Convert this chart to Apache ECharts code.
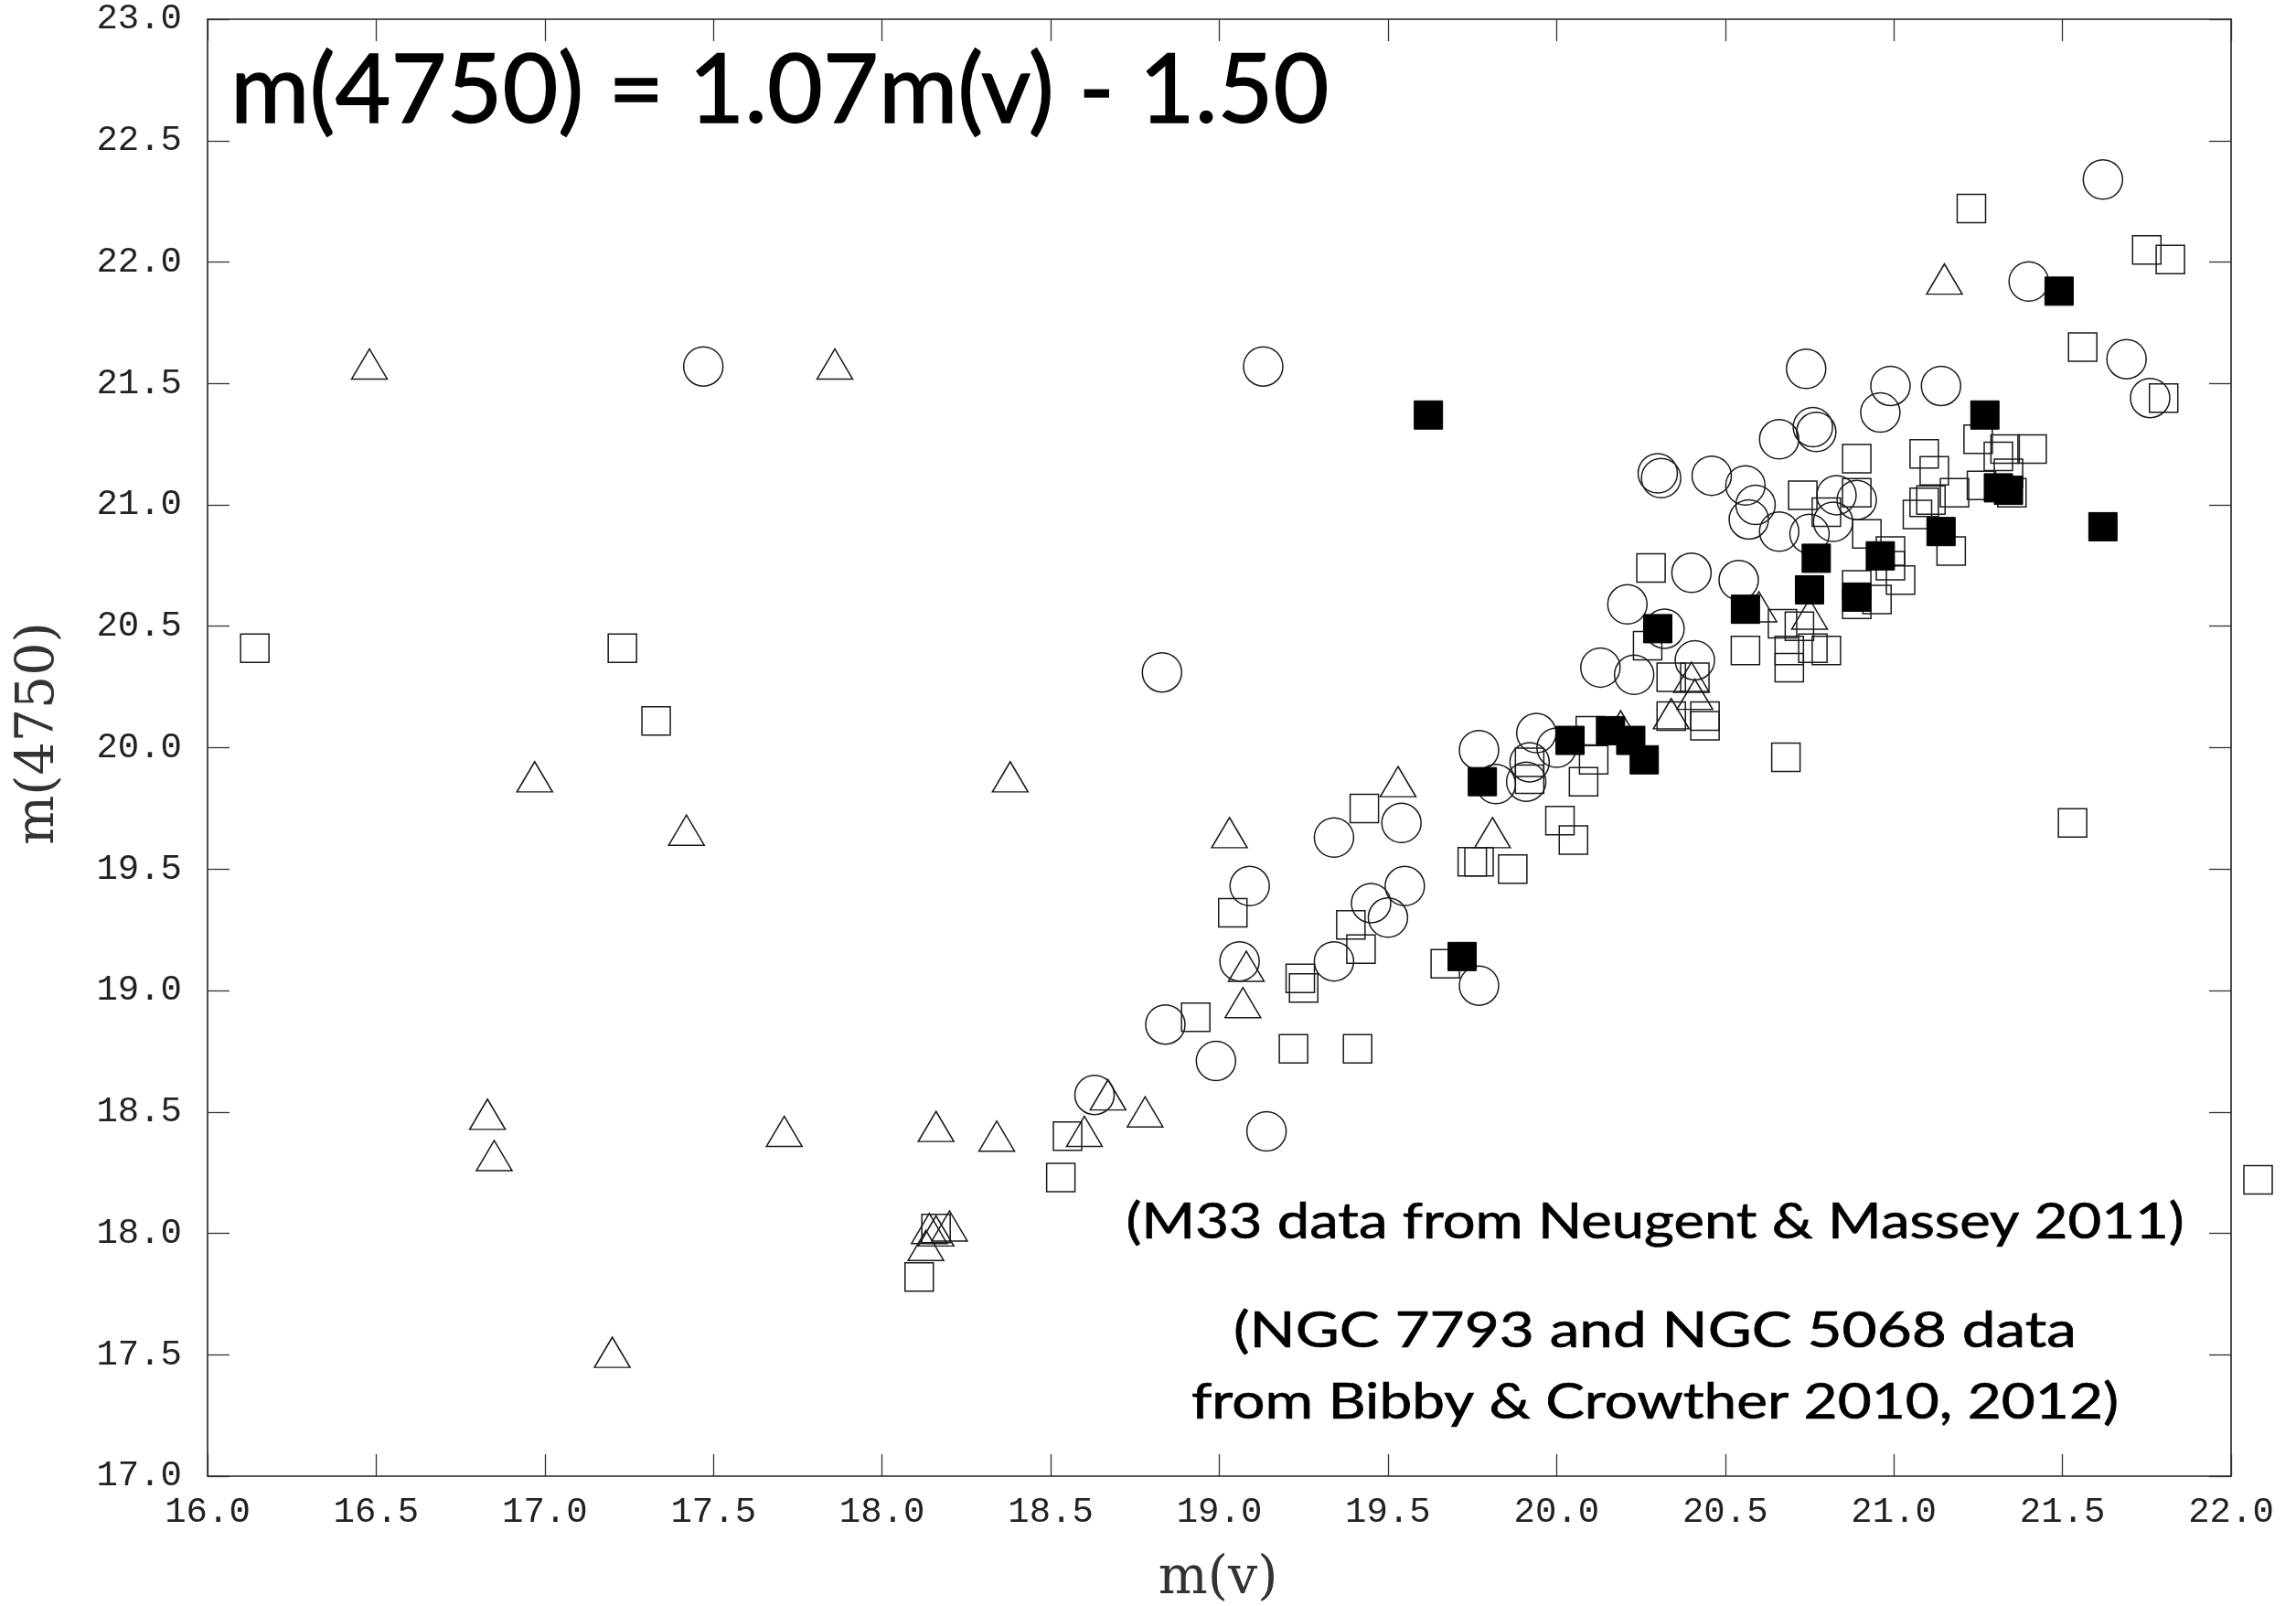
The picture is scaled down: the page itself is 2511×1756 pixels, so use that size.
<!DOCTYPE html>
<html>
<head>
<meta charset="utf-8">
<script src="https://cdn.jsdelivr.net/npm/echarts@6/dist/echarts.min.js"></script>
<style>
html,body{margin:0;padding:0;background:#fff;}
#c{width:2511px;height:1756px;}
</style>
</head>
<body>
<div id="c"></div>
<script>
// ---- data ----
const circleX = [17.47,19.13,18.83,19.09,19.34,19.54,19.55,19.45,19.50,19.06,19.34,18.84,18.99,19.14,18.63,19.77,
  19.77,19.82,19.94,19.92,20.00,19.91,20.21,20.40,20.54,20.13,20.23,20.32,20.41,21.62,21.40,21.69,21.76,20.74,20.99,
  21.14,20.96,20.76,20.77,20.66,20.30,20.31,20.46,20.56,20.59,20.57,20.66,20.75,20.83,20.89,20.82];
const circleY = [21.57,21.57,20.31,19.43,19.63,19.69,19.43,19.36,19.30,19.12,19.12,18.86,18.71,18.42,18.57,19.02,
  19.99,19.85,20.06,19.94,20.00,19.86,20.59,20.72,20.69,20.33,20.30,20.49,20.36,22.34,21.92,21.60,21.44,21.56,21.49,
  21.49,21.38,21.32,21.30,21.27,21.13,21.11,21.12,21.08,21.00,20.94,20.89,20.88,21.04,21.02,20.93];

const squareX = [16.14,17.23,17.33,22.08,21.53,18.16,18.11,18.55,18.53,18.93,19.22,19.41,19.24,19.25,19.43,19.04,
  19.39,19.42,19.75,19.77,19.87,20.01,20.05,19.67,19.92,19.92,20.08,20.11,20.10,20.34,20.44,20.44,20.34,20.41,20.27,
  20.28,20.56,20.68,20.69,20.67,20.72,20.69,20.76,20.80,20.89,20.95,20.89,20.92,20.99,20.99,21.02,21.17,21.07,21.09,
  21.11,21.18,20.80,20.73,20.89,20.89,21.09,21.12,21.25,21.33,21.41,21.31,21.34,21.26,21.35,21.23,21.75,21.82,21.56,21.80];
const squareY = [20.41,20.41,20.11,18.22,19.69,18.02,17.82,18.40,18.23,18.89,18.76,18.76,19.05,19.01,19.75,19.32,
  19.27,19.17,19.53,19.53,19.50,19.70,19.62,19.11,19.94,19.87,19.86,19.95,20.07,20.13,20.13,20.09,20.29,20.29,20.42,
  20.74,20.40,19.96,20.33,20.51,20.50,20.40,20.41,20.40,20.67,20.61,20.59,20.88,20.81,20.75,20.69,20.81,20.96,21.01,
  21.02,21.05,20.97,21.04,21.05,21.19,21.21,21.14,21.27,21.23,21.23,21.20,21.13,21.08,21.05,22.22,22.05,22.01,21.65,21.44];

const triangleX = [16.48,17.86,16.97,17.42,18.38,16.83,16.85,17.20,17.71,18.16,18.34,18.60,18.67,18.78,18.14,18.16,
  18.20,18.13,19.03,19.08,19.07,19.53,19.81,20.19,20.34,20.40,20.41,20.60,20.75,21.15];
const triangleY = [21.58,21.58,19.88,19.66,19.88,18.49,18.32,17.51,18.42,18.44,18.40,18.42,18.57,18.50,18.02,18.01,
  18.03,17.95,19.65,19.10,18.95,19.86,19.65,20.09,20.14,20.29,20.22,20.58,20.55,21.93];

const filledX = [19.62,21.49,21.27,21.31,21.34,21.62,21.14,20.96,20.77,20.75,20.89,20.56,20.30,20.04,20.16,20.22,20.26,19.78,19.72];
const filledY = [21.37,21.88,21.37,21.07,21.06,20.91,20.89,20.79,20.78,20.65,20.62,20.57,20.49,20.03,20.07,20.03,19.95,19.86,19.14];

const xTickMin = 16, xTickMax = 22, yTickMin = 17, yTickMax = 23, tickStep = 0.5;

const titleText = 'm(4750) = 1.07m(v) - 1.50';
const noteLines = ['(M33 data from Neugent & Massey 2011)', '(NGC 7793 and NGC 5068 data', 'from Bibby & Crowther 2010, 2012)'];
const xName = 'm(v)';
const yName = 'm(4750)';

// ---- helpers ----
function pts(xs, ys){ return xs.map((x,i)=>[x, ys[i]]); }
const measureCtx = document.createElement('canvas').getContext('2d');
function inkScale(text, font, target){
  measureCtx.font = font;
  const m = measureCtx.measureText(text);
  const w = (m.actualBoundingBoxLeft || 0) + (m.actualBoundingBoxRight || m.width);
  return target / w;
}

const TICKFONT = 'Liberation Mono';
const LINE = '#222';

function axisCommon(showLabel, isX){
  return {
    type: 'value',
    min: isX ? xTickMin : yTickMin,
    max: isX ? xTickMax : yTickMax,
    interval: tickStep,
    axisLine: {show: true, onZero: false, lineStyle: {color: LINE, width: 1.6}},
    axisTick: {show: true, inside: true, length: 24, lineStyle: {color: '#333', width: 1.3}},
    splitLine: {show: false},
    axisLabel: showLabel ? {
      show: true, fontFamily: TICKFONT, fontSize: 39, color: '#222',
      margin: isX ? 20 : 28,
      formatter: v => v.toFixed(1)
    } : {show: false}
  };
}

const titleFont = '104px Lato';
const noteFont = '54px Lato';
const titleS = inkScale(titleText, titleFont, 1192);
const noteTargets = [1152, 916, 1010];
const noteBase = [1337, 1456, 1534];

const graphics = [
  {type: 'text', x: 252, y: 100, scaleX: titleS, silent: true,
   style: {text: titleText, font: titleFont, fill: '#000', stroke: '#000', lineWidth: 1.3,
           align: 'left', verticalAlign: 'middle', textAlign: 'left', textVerticalAlign: 'middle'}},
  {type: 'text', x: 1332, y: 1727, silent: true,
   style: {text: xName, font: '57px "DejaVu Serif"', fill: '#333', align: 'center', verticalAlign: 'middle',
           textAlign: 'center', textVerticalAlign: 'middle'}},
  {type: 'text', x: 43, y: 802, rotation: Math.PI/2, silent: true,
   style: {text: yName, font: '57px "DejaVu Serif"', fill: '#333', align: 'center', verticalAlign: 'middle',
           textAlign: 'center', textVerticalAlign: 'middle'}}
];
noteLines.forEach((t, i) => {
  graphics.push({type: 'text', x: 1810, y: noteBase[i], scaleX: inkScale(t, noteFont, noteTargets[i]), silent: true,
    style: {text: t, font: noteFont, fill: '#000', stroke: '#000', lineWidth: 0.7,
            align: 'center', verticalAlign: 'middle', textAlign: 'center', textVerticalAlign: 'middle'}});
});

const openStyle = {color: 'rgba(0,0,0,0)', borderColor: '#1a1a1a', borderWidth: 1.5, opacity: 1};

const option = {
  animation: false,
  backgroundColor: '#fff',
  grid: {left: 227, right: 71, top: 21, bottom: 142, containLabel: false},
  xAxis: [
    Object.assign(axisCommon(true, true), {position: 'bottom'}),
    Object.assign(axisCommon(false, true), {position: 'top'})
  ],
  yAxis: [
    Object.assign(axisCommon(true, false), {position: 'left'}),
    Object.assign(axisCommon(false, false), {position: 'right'})
  ],
  graphic: graphics,
  series: [
    {type: 'scatter', name: 'circles', data: pts(circleX, circleY), symbol: 'circle', symbolSize: 43,
     itemStyle: openStyle, clip: false, silent: true, z: 2},
    {type: 'scatter', name: 'open squares', data: pts(squareX, squareY), symbol: 'rect', symbolSize: 31,
     itemStyle: openStyle, clip: false, silent: true, z: 2},
    {type: 'scatter', name: 'triangles', data: pts(triangleX, triangleY), symbol: 'triangle', symbolSize: [39, 33],
     itemStyle: openStyle, clip: false, silent: true, z: 2},
    {type: 'scatter', name: 'filled squares', data: pts(filledX, filledY), symbol: 'rect', symbolSize: 31,
     itemStyle: {color: '#000', borderColor: '#000', borderWidth: 1, opacity: 1}, clip: false, silent: true, z: 3}
  ]
};

const chart = echarts.init(document.getElementById('c'), null, {renderer: 'canvas'});
chart.setOption(option);
</script>
</body>
</html>
